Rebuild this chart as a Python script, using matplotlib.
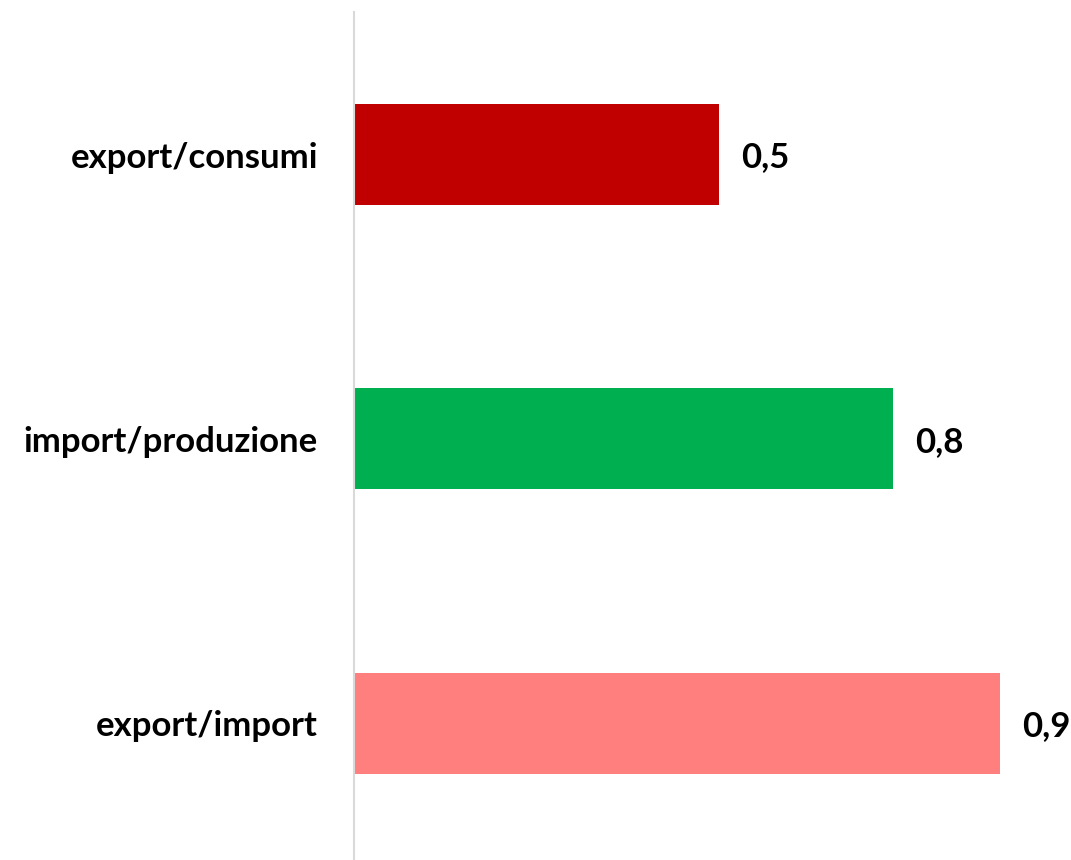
import matplotlib
matplotlib.use("Agg")
import matplotlib.pyplot as plt

categories = ["export/consumi", "import/produzione", "export/import"]
values = [0.508, 0.751, 0.9]
colors = ["#C00000", "#00B050", "#FF7F7F"]

plt.rcParams['font.family'] = ['Lato', 'DejaVu Sans']

W, H = 1071, 860
fig = plt.figure(figsize=(W / 100, H / 100), dpi=100)
ax = fig.add_axes([354 / W, 0, (1000 - 354) / W, (860 - 12) / H])

y = list(range(len(categories)))
ax.barh(y, values, height=0.355, color=colors, zorder=2)
ax.set_xlim(0, 0.9)
ax.set_ylim(2.48, -0.501)

for yi, v in zip(y, values):
    ax.annotate(f"{v:.1f}".replace(".", ","), xy=(v, yi), xytext=(22, -3),
                textcoords="offset pixels",
                ha="left", va="center", fontsize=25, fontweight="bold",
                color="black", annotation_clip=False)

ax.set_yticks(y)
ax.set_yticklabels(categories, fontsize=25, fontweight="bold")
ax.tick_params(axis="y", length=0, pad=26)
ax.set_xticks([])
for s in ["top", "right", "bottom"]:
    ax.spines[s].set_visible(False)
ax.spines["left"].set_color("#D9D9D9")
ax.spines["left"].set_linewidth(1.5)

fig.savefig("out.png", dpi=100)
